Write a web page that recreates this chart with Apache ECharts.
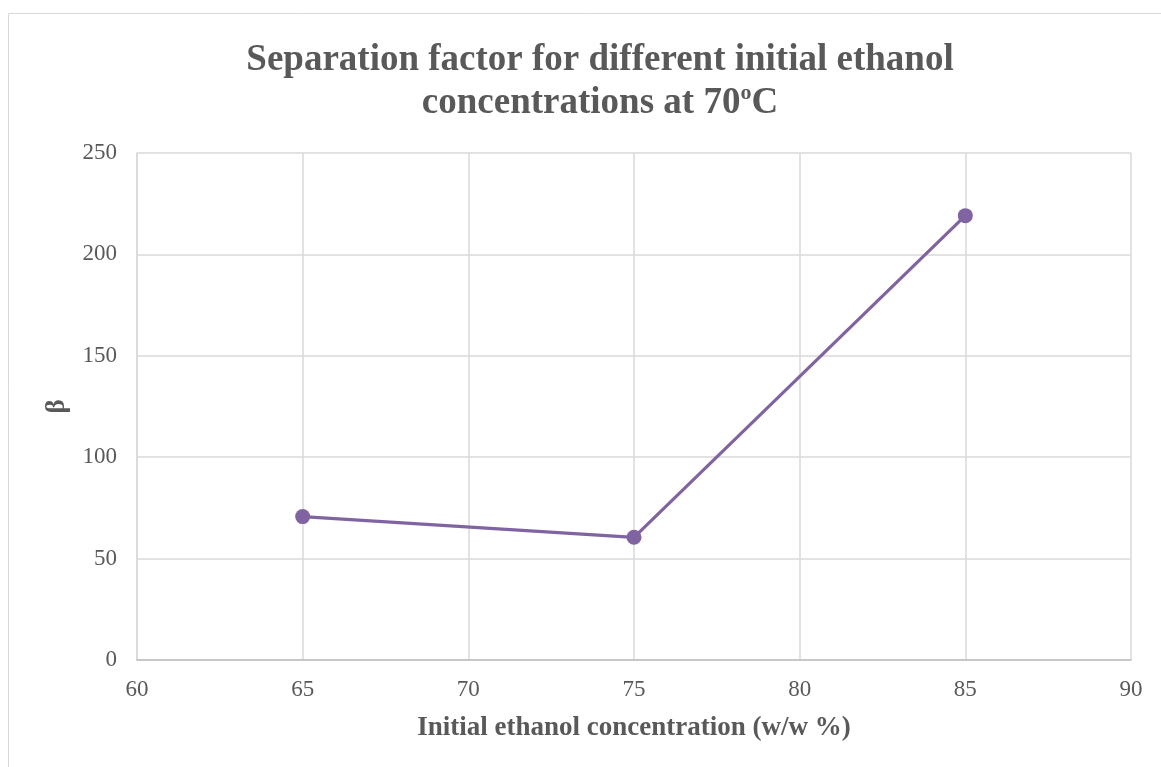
<!DOCTYPE html>
<html>
<head>
<meta charset="utf-8">
<style>
  html, body { margin: 0; padding: 0; background: #fff; }
  #chart { width: 1161px; height: 767px; }
</style>
<script src="https://cdn.jsdelivr.net/npm/echarts@6/dist/echarts.min.js"></script>
</head>
<body>
<div id="chart"></div>
<script>
// Initial ethanol concentration (w/w %) and separation factor β at 70 °C
const concentrations = [65, 75, 85];
const betaValues = [70.7, 60.5, 219.1];
const xTicks = [60, 65, 70, 75, 80, 85, 90];
const yTicks = [0, 50, 100, 150, 200, 250];

const textGray = '#595959';
const gridGray = '#d9d9d9';
const serif = '"Liberation Serif", "Times New Roman", serif';

const chart = echarts.init(document.getElementById('chart'), null, { renderer: 'canvas' });

chart.setOption({
  animation: false,
  backgroundColor: '#fff',
  graphic: [{
    type: 'rect',
    shape: { x: 8.5, y: 13.5, width: 1180, height: 800 },
    style: { fill: 'none', stroke: '#d9d9d9', lineWidth: 1 },
    silent: true
  }],
  title: {
    text: '{t|Separation factor for different initial ethanol}\n{t|concentrations at 70}{s|o}{t|C}',
    left: 595,
    textAlign: 'center',
    top: 34,
    textStyle: {
      rich: {
        t: { fontFamily: serif, fontWeight: 'bold', fontSize: 37, color: textGray, lineHeight: 43 },
        s: { fontFamily: serif, fontWeight: 'bold', fontSize: 22, color: textGray, lineHeight: 43, verticalAlign: 'top', padding: [0, 0, 12, 0] }
      }
    }
  },
  grid: { left: 137, right: 30, top: 153, bottom: 107, containLabel: false },
  xAxis: {
    type: 'value',
    min: xTicks[0],
    max: xTicks[xTicks.length - 1],
    interval: 5,
    name: 'Initial ethanol concentration (w/w %)',
    nameLocation: 'middle',
    nameGap: 55,
    nameTextStyle: { fontFamily: serif, fontWeight: 'bold', fontSize: 27, color: textGray },
    axisLine: { show: true, lineStyle: { color: '#bfbfbf', width: 1.5 } },
    axisTick: { show: false },
    axisLabel: { fontFamily: serif, fontSize: 23, color: textGray, margin: 18 },
    splitLine: { show: true, lineStyle: { color: gridGray, width: 1.5 } }
  },
  yAxis: {
    type: 'value',
    min: yTicks[0],
    max: yTicks[yTicks.length - 1],
    interval: 50,
    name: 'β',
    nameLocation: 'middle',
    nameGap: 66,
    nameTextStyle: { fontFamily: serif, fontWeight: 'bold', fontSize: 27, color: textGray },
    axisLine: { show: true, lineStyle: { color: gridGray, width: 1.5 } },
    axisTick: { show: false },
    axisLabel: { fontFamily: serif, fontSize: 23, color: textGray, margin: 20 },
    splitLine: { show: true, lineStyle: { color: gridGray, width: 1.5 } }
  },
  series: [{
    type: 'line',
    data: concentrations.map((c, i) => [c, betaValues[i]]),
    symbol: 'circle',
    symbolSize: 15,
    lineStyle: { color: '#8064a2', width: 3.2 },
    itemStyle: { color: '#8064a2' },
    z: 5
  }]
});
</script>
</body>
</html>
